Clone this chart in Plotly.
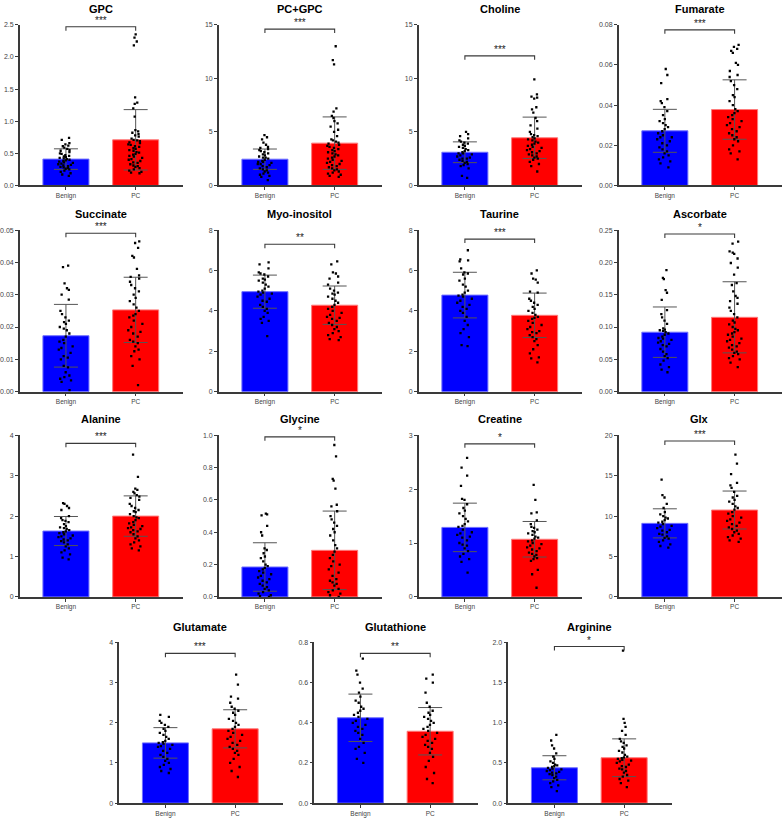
import plotly.graph_objects as go

W, H = 783, 819

names = ["GPC", "PC+GPC", "Choline", "Fumarate", "Succinate", "Myo-inositol", "Taurine",
         "Ascorbate", "Alanine", "Glycine", "Creatine", "Glx", "Glutamate", "Glutathione", "Arginine"]
groups = ["Benign", "PC"]
mean_benign = [0.41, 2.45, 3.1, 0.0272, 0.0173, 4.95, 4.78, 0.092, 1.63, 0.185, 1.29, 9.1, 1.50, 0.425, 0.44]
mean_pc = [0.71, 3.95, 4.45, 0.0378, 0.0253, 4.28, 3.78, 0.115, 2.00, 0.288, 1.07, 10.75, 1.85, 0.358, 0.565]
sd_benign = [0.16, 0.95, 0.97, 0.0107, 0.0097, 0.82, 1.13, 0.039, 0.36, 0.15, 0.45, 1.8, 0.38, 0.118, 0.15]
sd_pc = [0.47, 2.45, 1.93, 0.0148, 0.0101, 0.95, 1.10, 0.055, 0.50, 0.243, 0.33, 2.35, 0.475, 0.118, 0.235]
y_max = [2.5, 15, 15, 0.08, 0.05, 8, 8, 0.25, 4, 1.0, 3, 20, 4, 0.8, 2.0]
y_step = [0.5, 5, 5, 0.02, 0.01, 2, 2, 0.05, 1, 0.2, 1, 5, 1, 0.2, 0.5]
y_fmt = [".1f", "d", "d", ".2f", ".2f", "d", "d", ".2f", "d", ".1f", "d", "d", "d", ".1f", ".1f"]
bracket_y = [2.47, 14.6, 12.1, 0.0775, 0.049, 7.3, 7.55, 0.244, 3.8, 0.99, 2.84, 19.3, 3.73, 0.746, 1.95]
stars = ["***", "***", "***", "***", "***", "**", "***", "*", "***", "*", "*", "***", "***", "**", "*"]

gpc_benign = [0.74,0.71,0.66,0.64,0.62,0.61,0.59,0.57,0.55,0.54,0.52,0.50,0.49,0.47,0.46,0.45,0.44,0.43,0.42,0.41,0.40,0.39,0.38,0.37,0.36,0.35,0.34,0.33,0.32,0.31,0.30,0.29,0.28,0.27,0.26,0.25,0.23,0.21,0.19,0.17,0.15]
gpc_pc = [2.35,2.30,2.24,2.18,1.37,1.29,1.27,1.20,1.07,0.86,0.84,0.82,0.80,0.78,0.76,0.73,0.71,0.70,0.69,0.67,0.66,0.64,0.63,0.61,0.60,0.58,0.57,0.55,0.54,0.52,0.51,0.49,0.48,0.46,0.45,0.43,0.41,0.40,0.38,0.36,0.35,0.33,0.31,0.30,0.29,0.27,0.25,0.23,0.21,0.20,0.19]
pcgpc_benign = [4.7,4.5,4.3,4.0,3.8,3.6,3.5,3.4,3.3,3.2,3.1,3.0,2.9,2.8,2.7,2.6,2.6,2.5,2.4,2.3,2.2,2.2,2.1,2.0,2.0,1.9,1.8,1.7,1.6,1.5,1.4,1.3,1.2,1.1,1.0,0.9,0.8,0.5]
pcgpc_pc = [13.0,11.7,11.3,7.2,6.9,6.5,6.3,6.0,5.8,5.5,5.2,5.0,4.6,4.3,4.2,4.1,4.0,3.9,3.8,3.7,3.6,3.5,3.4,3.3,3.2,3.1,3.0,2.9,2.8,2.7,2.6,2.5,2.4,2.3,2.2,2.1,2.0,1.9,1.8,1.7,1.6,1.5,1.4,1.3,1.2,1.1,1.0,0.9,0.8]
choline_benign = [5.0,4.8,4.6,4.4,4.2,4.1,4.0,3.9,3.8,3.7,3.6,3.5,3.4,3.3,3.2,3.1,3.0,3.0,2.9,2.8,2.7,2.6,2.5,2.5,2.4,2.3,2.2,2.1,2.0,1.9,1.8,1.6,0.9,0.7]
choline_pc = [9.9,8.5,8.3,8.2,8.1,7.3,7.1,6.8,6.3,6.0,5.6,5.3,5.0,4.8,4.7,4.6,4.5,4.4,4.3,4.2,4.1,4.0,3.9,3.8,3.7,3.6,3.5,3.4,3.3,3.2,3.1,3.0,2.9,2.8,2.7,2.6,2.5,2.4,2.2,2.0,1.8,1.3]
fumarate_benign = [0.058,0.055,0.051,0.043,0.042,0.041,0.039,0.037,0.035,0.033,0.032,0.031,0.030,0.029,0.028,0.027,0.026,0.025,0.024,0.024,0.023,0.022,0.021,0.020,0.019,0.018,0.017,0.016,0.015,0.014,0.013,0.012,0.011,0.009]
fumarate_pc = [0.070,0.069,0.068,0.067,0.066,0.061,0.060,0.057,0.055,0.054,0.052,0.050,0.048,0.045,0.044,0.042,0.040,0.038,0.037,0.036,0.035,0.034,0.033,0.032,0.031,0.030,0.029,0.028,0.027,0.026,0.025,0.024,0.023,0.022,0.020,0.018,0.017,0.016,0.013]
succinate_benign = [0.039,0.0385,0.0335,0.032,0.0315,0.030,0.0285,0.025,0.024,0.023,0.022,0.0215,0.021,0.020,0.0195,0.019,0.018,0.017,0.016,0.0155,0.015,0.014,0.0135,0.013,0.012,0.011,0.0105,0.010,0.008,0.0075,0.006,0.005,0.0045,0.004,0.0035,0.003,0.0005]
succinate_pc = [0.0465,0.046,0.0445,0.042,0.0415,0.038,0.036,0.0355,0.035,0.034,0.033,0.032,0.031,0.030,0.029,0.028,0.027,0.026,0.025,0.024,0.0235,0.023,0.022,0.021,0.020,0.019,0.0185,0.018,0.017,0.016,0.0155,0.015,0.014,0.013,0.0125,0.011,0.010,0.008,0.002]
myo_benign = [6.4,6.3,6.1,5.9,5.85,5.8,5.7,5.6,5.55,5.5,5.4,5.3,5.2,5.1,5.0,4.95,4.9,4.85,4.8,4.7,4.6,4.5,4.45,4.3,4.2,4.1,4.0,3.9,3.7,3.6,3.5,3.4,2.75]
myo_pc = [6.45,6.3,5.9,5.85,5.7,5.6,5.4,5.3,5.1,5.0,4.9,4.85,4.8,4.7,4.6,4.5,4.4,4.3,4.2,4.1,4.0,3.9,3.8,3.7,3.65,3.6,3.5,3.4,3.3,3.2,3.1,3.0,2.9,2.8,2.7,2.6,2.55]
taurine_benign = [7.0,6.55,6.5,6.45,6.1,5.9,5.85,5.8,5.6,5.5,5.3,5.2,5.0,4.9,4.8,4.75,4.7,4.6,4.5,4.4,4.3,4.2,4.1,4.0,3.9,3.7,3.5,3.3,3.1,2.9,2.7,2.3,2.25]
taurine_pc = [6.0,5.85,5.6,5.55,5.4,4.95,4.9,4.6,4.5,4.4,4.3,4.2,4.1,4.0,3.9,3.8,3.7,3.65,3.6,3.5,3.4,3.3,3.2,3.1,3.0,2.95,2.9,2.8,2.7,2.6,2.5,2.3,2.1,1.9,1.7,1.65,1.45]
ascorbate_benign = [0.188,0.176,0.174,0.157,0.153,0.142,0.126,0.12,0.115,0.11,0.105,0.098,0.096,0.095,0.094,0.092,0.09,0.088,0.085,0.083,0.082,0.08,0.078,0.076,0.074,0.072,0.07,0.066,0.062,0.058,0.055,0.052,0.048,0.042,0.038,0.034,0.03]
ascorbate_pc = [0.232,0.229,0.217,0.215,0.213,0.206,0.199,0.192,0.181,0.168,0.165,0.155,0.148,0.145,0.14,0.136,0.13,0.125,0.12,0.115,0.11,0.107,0.104,0.1,0.097,0.095,0.092,0.09,0.088,0.085,0.082,0.08,0.078,0.075,0.072,0.07,0.068,0.065,0.062,0.06,0.058,0.055,0.052,0.05,0.045,0.038]
alanine_benign = [2.32,2.3,2.25,2.2,2.15,2.0,1.95,1.9,1.88,1.85,1.8,1.75,1.72,1.7,1.68,1.65,1.62,1.6,1.58,1.55,1.52,1.5,1.48,1.45,1.42,1.4,1.38,1.35,1.3,1.25,1.2,1.15,1.1,1.05,0.97,0.93]
alanine_pc = [3.52,2.97,2.68,2.65,2.6,2.56,2.52,2.48,2.45,2.4,2.3,2.25,2.2,2.15,2.12,2.1,2.05,2.0,1.97,1.95,1.9,1.85,1.82,1.78,1.75,1.72,1.7,1.68,1.65,1.62,1.6,1.55,1.5,1.45,1.4,1.35,1.3,1.25,1.2,1.15]
glycine_benign = [0.515,0.51,0.505,0.44,0.4,0.38,0.3,0.29,0.27,0.25,0.24,0.22,0.2,0.19,0.18,0.17,0.16,0.15,0.14,0.13,0.12,0.11,0.1,0.09,0.08,0.07,0.06,0.05,0.04,0.03,0.02,0.01,0.005,0.0]
glycine_pc = [0.94,0.87,0.73,0.72,0.67,0.57,0.56,0.53,0.5,0.48,0.46,0.44,0.42,0.4,0.38,0.35,0.32,0.3,0.28,0.26,0.24,0.22,0.2,0.19,0.17,0.15,0.13,0.11,0.1,0.09,0.08,0.07,0.05,0.04,0.03,0.02,0.01,0.0]
creatine_benign = [2.58,2.4,2.25,2.06,1.82,1.8,1.72,1.65,1.6,1.55,1.5,1.45,1.4,1.35,1.32,1.3,1.25,1.2,1.18,1.15,1.12,1.1,1.05,1.0,0.97,0.95,0.9,0.85,0.8,0.75,0.7,0.65,0.45]
creatine_pc = [2.08,1.8,1.57,1.55,1.42,1.35,1.3,1.28,1.25,1.22,1.2,1.18,1.15,1.12,1.1,1.08,1.05,1.03,1.0,0.98,0.95,0.92,0.9,0.88,0.85,0.82,0.8,0.78,0.75,0.72,0.7,0.67,0.5,0.42,0.17]
glx_benign = [14.5,12.6,12.3,11.5,11.0,10.5,10.2,10.0,9.8,9.7,9.5,9.3,9.2,9.0,8.8,8.7,8.5,8.3,8.2,8.0,7.8,7.7,7.5,7.3,7.2,7.0,6.8,6.5,6.3,6.1]
glx_pc = [17.6,16.5,15.2,14.1,13.8,13.5,13.0,12.5,12.3,12.0,11.8,11.5,11.2,11.0,10.8,10.5,10.3,10.0,9.8,9.6,9.4,9.2,9.0,8.8,8.6,8.4,8.2,8.0,7.8,7.6,7.4,7.2,7.0,6.8]
glutamate_benign = [2.2,2.15,2.05,2.0,1.95,1.9,1.85,1.8,1.75,1.7,1.65,1.6,1.55,1.52,1.5,1.48,1.45,1.42,1.4,1.35,1.3,1.25,1.2,1.15,1.1,1.05,1.0,0.95,0.9,0.85,0.8,0.75]
glutamate_pc = [3.2,2.95,2.65,2.6,2.5,2.4,2.35,2.3,2.25,2.2,2.1,2.05,2.0,1.95,1.9,1.85,1.8,1.75,1.7,1.65,1.6,1.55,1.5,1.45,1.4,1.35,1.3,1.25,1.2,1.1,1.0,0.9,0.8,0.65]
glutathione_benign = [0.72,0.66,0.64,0.6,0.57,0.55,0.53,0.51,0.5,0.48,0.47,0.46,0.45,0.44,0.43,0.42,0.41,0.4,0.39,0.38,0.37,0.36,0.35,0.34,0.32,0.3,0.28,0.27,0.25,0.22,0.2]
glutathione_pc = [0.64,0.62,0.6,0.55,0.5,0.48,0.46,0.45,0.44,0.43,0.42,0.41,0.4,0.39,0.38,0.37,0.36,0.35,0.34,0.33,0.32,0.31,0.3,0.29,0.28,0.27,0.25,0.23,0.21,0.18,0.15,0.12,0.1]
arginine_benign = [0.85,0.78,0.72,0.68,0.62,0.58,0.55,0.52,0.5,0.48,0.47,0.46,0.45,0.44,0.43,0.42,0.41,0.4,0.39,0.38,0.37,0.36,0.35,0.33,0.31,0.29,0.27,0.25,0.22,0.2,0.15]
arginine_pc = [1.9,1.05,1.0,0.95,0.9,0.85,0.8,0.77,0.75,0.72,0.7,0.68,0.65,0.63,0.6,0.58,0.57,0.56,0.55,0.54,0.53,0.52,0.5,0.48,0.46,0.45,0.43,0.42,0.4,0.38,0.35,0.33,0.3,0.28,0.25,0.2]

points_benign = [gpc_benign, pcgpc_benign, choline_benign, fumarate_benign, succinate_benign, myo_benign,
                 taurine_benign, ascorbate_benign, alanine_benign, glycine_benign, creatine_benign, glx_benign,
                 glutamate_benign, glutathione_benign, arginine_benign]
points_pc = [gpc_pc, pcgpc_pc, choline_pc, fumarate_pc, succinate_pc, myo_pc, taurine_pc, ascorbate_pc,
             alanine_pc, glycine_pc, creatine_pc, glx_pc, glutamate_pc, glutathione_pc, arginine_pc]

# layout geometry (pixels)
panel_left = [16, 216, 417, 618] * 3 + [116, 312, 507]
row_top = [21, 228, 435, 644]
row_bottom = [183, 391, 598, 806]
panel_row = [0] * 4 + [1] * 4 + [2] * 4 + [3] * 3
PANEL_W = 164
X_RANGE = [-0.66, 1.68]

FONT = "Liberation Sans, Arial, Helvetica, sans-serif"
AXC = "#3a3a3a"

fig = go.Figure()
layout = dict(width=W, height=H, autosize=False, margin=dict(l=0, r=0, t=0, b=0, pad=0),
              paper_bgcolor="white", plot_bgcolor="white", showlegend=False,
              font=dict(family=FONT), boxmode="overlay")
annotations = []

for i, name in enumerate(names):
    k = i + 1
    xa = "x" if k == 1 else f"x{k}"
    ya = "y" if k == 1 else f"y{k}"
    r = panel_row[i]
    left = panel_left[i]
    top, bottom = row_top[r], row_bottom[r]
    ymax = y_max[i]
    nt = int(round(ymax / y_step[i]))
    tickvals = [j * y_step[i] for j in range(nt + 1)]

    layout["xaxis" if k == 1 else f"xaxis{k}"] = dict(
        domain=[left / W, (left + PANEL_W) / W], range=X_RANGE, anchor=ya,
        showline=True, linecolor=AXC, linewidth=1.6, ticks="outside", ticklen=3,
        tickcolor=AXC, tickwidth=1, tickvals=[0, 1], ticktext=groups,
        tickfont=dict(size=6.5, color="#444"), showgrid=False, zeroline=False, fixedrange=True)
    layout["yaxis" if k == 1 else f"yaxis{k}"] = dict(
        domain=[(H - bottom) / H, (H - top) / H], range=[0, ymax], anchor=xa,
        showline=True, linecolor=AXC, linewidth=1.6, ticks="outside", ticklen=3,
        tickcolor=AXC, tickwidth=1, tickvals=tickvals, tickformat=y_fmt[i],
        tickfont=dict(size=7, color="#444"), showgrid=False, zeroline=False, fixedrange=True)

    fig.add_trace(go.Bar(
        x=[0, 1], y=[mean_benign[i], mean_pc[i]], width=0.66,
        marker=dict(color=["#0000FF", "#FF0000"], line=dict(color=["#6f6fff", "#ff7a7a"], width=1)),
        error_y=dict(type="data", symmetric=True, array=[sd_benign[i], sd_pc[i]],
                     width=12, thickness=1, color="#555"),
        xaxis=xa, yaxis=ya, hoverinfo="y"))

    for pos, vals in ((0, points_benign[i]), (1, points_pc[i])):
        fig.add_trace(go.Box(
            x=[pos] * len(vals), y=vals, boxpoints="all", jitter=0.45, pointpos=0, width=0.5,
            fillcolor="rgba(0,0,0,0)", line=dict(width=0, color="rgba(0,0,0,0)"),
            marker=dict(color="black", size=2.3, symbol="square"),
            xaxis=xa, yaxis=ya, hoveron="points"))

    # significance bracket
    by = bracket_y[i]
    d = 4.0 / (bottom - top) * ymax
    fig.add_trace(go.Scatter(
        x=[0, 0, 1, 1], y=[by - d, by, by, by - d], mode="lines",
        line=dict(color=AXC, width=1.1), xaxis=xa, yaxis=ya, hoverinfo="skip"))
    annotations.append(dict(x=0.5, y=by, xref=xa, yref=ya, text=stars[i], showarrow=False,
                            yanchor="bottom", yshift=-1, font=dict(size=10, color="#222")))
    # title
    annotations.append(dict(x=0.5, y=(H - top + 16) / H, xref=xa, yref="paper",
                            text=f"<b>{name}</b>", showarrow=False, yanchor="middle",
                            font=dict(size=11, color="black")))

layout["annotations"] = annotations
fig.update_layout(**layout)
fig.write_html("out.html", config={"displayModeBar": False},
               post_script="document.body.style.margin='0';document.body.style.overflow='hidden';")
